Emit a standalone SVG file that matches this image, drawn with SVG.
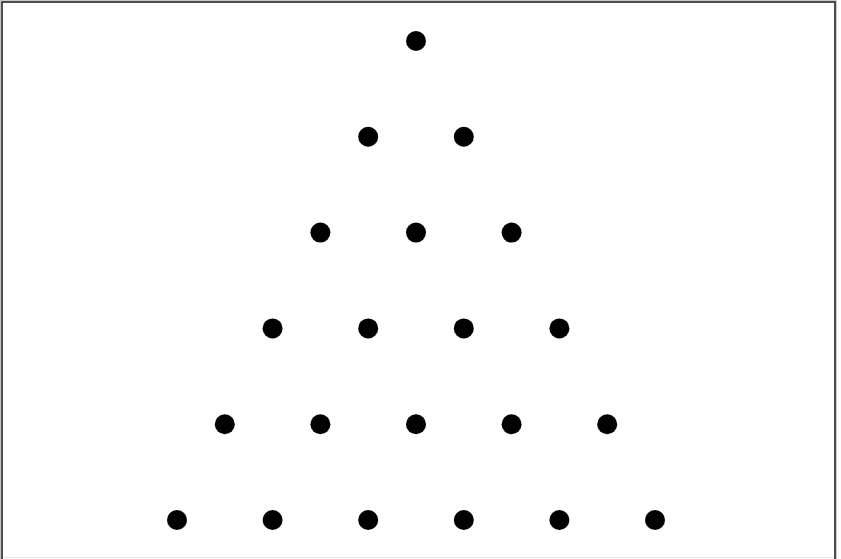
<svg xmlns="http://www.w3.org/2000/svg" width="841" height="559" viewBox="0 0 841 559">
<style>
.dot{fill:#000}
</style>
<rect x="0" y="0" width="841" height="559" fill="#fff"/>
<rect x="0.5" y="0.5" width="836" height="570" fill="none" stroke="#c8c8c8" stroke-width="1"/>
<line x1="2" y1="557.5" x2="835" y2="557.5" stroke="#e6e6e6" stroke-width="1"/>
<rect x="2" y="2" width="833" height="570" fill="none" stroke="#222" stroke-width="1.6"/>
<g id="row1">
<circle class="dot" cx="416" cy="41" r="10"/>
</g>
<g id="row2">
<circle class="dot" cx="368.2" cy="136.8" r="10"/>
<circle class="dot" cx="463.8" cy="136.8" r="10"/>
</g>
<g id="row3">
<circle class="dot" cx="320.4" cy="232.6" r="10"/>
<circle class="dot" cx="416" cy="232.6" r="10"/>
<circle class="dot" cx="511.6" cy="232.6" r="10"/>
</g>
<g id="row4">
<circle class="dot" cx="272.6" cy="328.4" r="10"/>
<circle class="dot" cx="368.2" cy="328.4" r="10"/>
<circle class="dot" cx="463.8" cy="328.4" r="10"/>
<circle class="dot" cx="559.4" cy="328.4" r="10"/>
</g>
<g id="row5">
<circle class="dot" cx="224.8" cy="424.2" r="10"/>
<circle class="dot" cx="320.4" cy="424.2" r="10"/>
<circle class="dot" cx="416" cy="424.2" r="10"/>
<circle class="dot" cx="511.6" cy="424.2" r="10"/>
<circle class="dot" cx="607.2" cy="424.2" r="10"/>
</g>
<g id="row6">
<circle class="dot" cx="177" cy="520" r="10"/>
<circle class="dot" cx="272.6" cy="520" r="10"/>
<circle class="dot" cx="368.2" cy="520" r="10"/>
<circle class="dot" cx="463.8" cy="520" r="10"/>
<circle class="dot" cx="559.4" cy="520" r="10"/>
<circle class="dot" cx="655" cy="520" r="10"/>
</g>
</svg>
